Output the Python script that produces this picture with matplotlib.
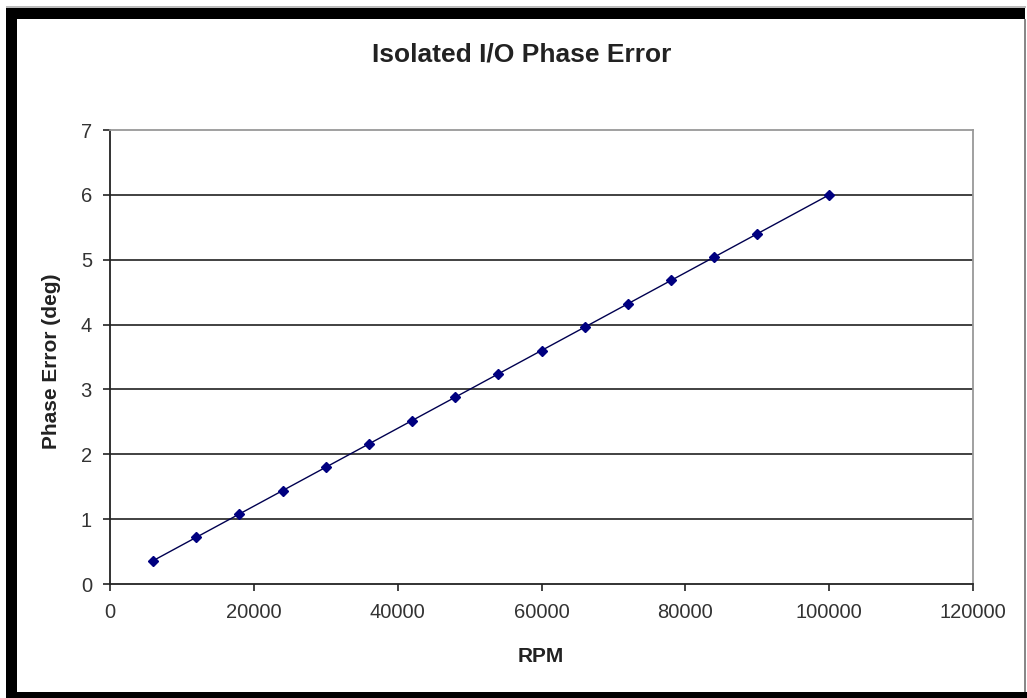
import matplotlib
matplotlib.use("Agg")
import matplotlib.pyplot as plt
from matplotlib.patches import Rectangle

rpm = [6000, 12000, 18000, 24000, 30000, 36000, 42000, 48000, 54000,
       60000, 66000, 72000, 78000, 84000, 90000, 100000]
phase_err = [0.36, 0.72, 1.08, 1.44, 1.80, 2.16, 2.52, 2.88, 3.24,
             3.60, 3.96, 4.32, 4.68, 5.04, 5.40, 6.00]
x_ticks = [0, 20000, 40000, 60000, 80000, 100000, 120000]
y_ticks = [0, 1, 2, 3, 4, 5, 6, 7]

plt.rcParams['font.family'] = ['Liberation Sans', 'DejaVu Sans']

W, H = 1027, 698
fig = plt.figure(figsize=(W / 100, H / 100), dpi=100)


def band(x0, y0, x1, y1, color):
    fig.patches.append(Rectangle((x0 / W, 1 - y1 / H), (x1 - x0) / W, (y1 - y0) / H,
                                 transform=fig.transFigure, facecolor=color,
                                 edgecolor='none', zorder=0))


# frame: black top, left, bottom; thin gray right
band(6, 8, 1025, 19, 'black')
band(6, 8, 17, 698, 'black')
band(6, 692, 1027, 698, 'black')
band(1024, 19, 1026, 692, '#888888')
band(6, 6, 1026, 8, '#bbbbbb')

ax = fig.add_axes([110 / W, 1 - 584 / H, (973 - 110) / W, (584 - 130) / H])
ax.plot(rpm, phase_err, color='#000050', linewidth=1.0, marker='D',
        markersize=5.5, markerfacecolor='#000080', markeredgecolor='#000080', zorder=3)

ax.set_xlim(0, 120000)
ax.set_ylim(0, 7)
ax.set_xticks(x_ticks)
ax.set_yticks(y_ticks)
ax.set_xticklabels([str(v) for v in x_ticks])
ax.set_yticklabels([str(v) for v in y_ticks])
ax.tick_params(axis='both', labelsize=14.5, labelcolor='#333333', color='#222222',
               direction='out', length=5, width=1.2)
ax.tick_params(axis='x', pad=9)
ax.tick_params(axis='y', pad=8)

for y in y_ticks[1:-1]:
    ax.axhline(y, color='#333333', linewidth=1.3, zorder=1)

ax.spines['left'].set_color('#222222')
ax.spines['left'].set_linewidth(1.3)
ax.spines['bottom'].set_color('#222222')
ax.spines['bottom'].set_linewidth(1.3)
ax.spines['top'].set_color('#999999')
ax.spines['top'].set_linewidth(1.3)
ax.spines['right'].set_color('#999999')
ax.spines['right'].set_linewidth(1.3)

fig.text(541 / W, 1 - 657 / H, 'RPM', ha='center', va='center',
         fontsize=15, fontweight='bold', color='#222222')
fig.text(52 / W, 1 - 361 / H, 'Phase Error (deg)', ha='center', va='center',
         rotation=90, fontsize=15, fontweight='bold', color='#222222')

fig.text(522 / W, 1 - 55 / H, 'Isolated I/O Phase Error', ha='center', va='center',
         fontsize=19, fontweight='bold', color='#222222')

fig.savefig('out.png', dpi=100)
